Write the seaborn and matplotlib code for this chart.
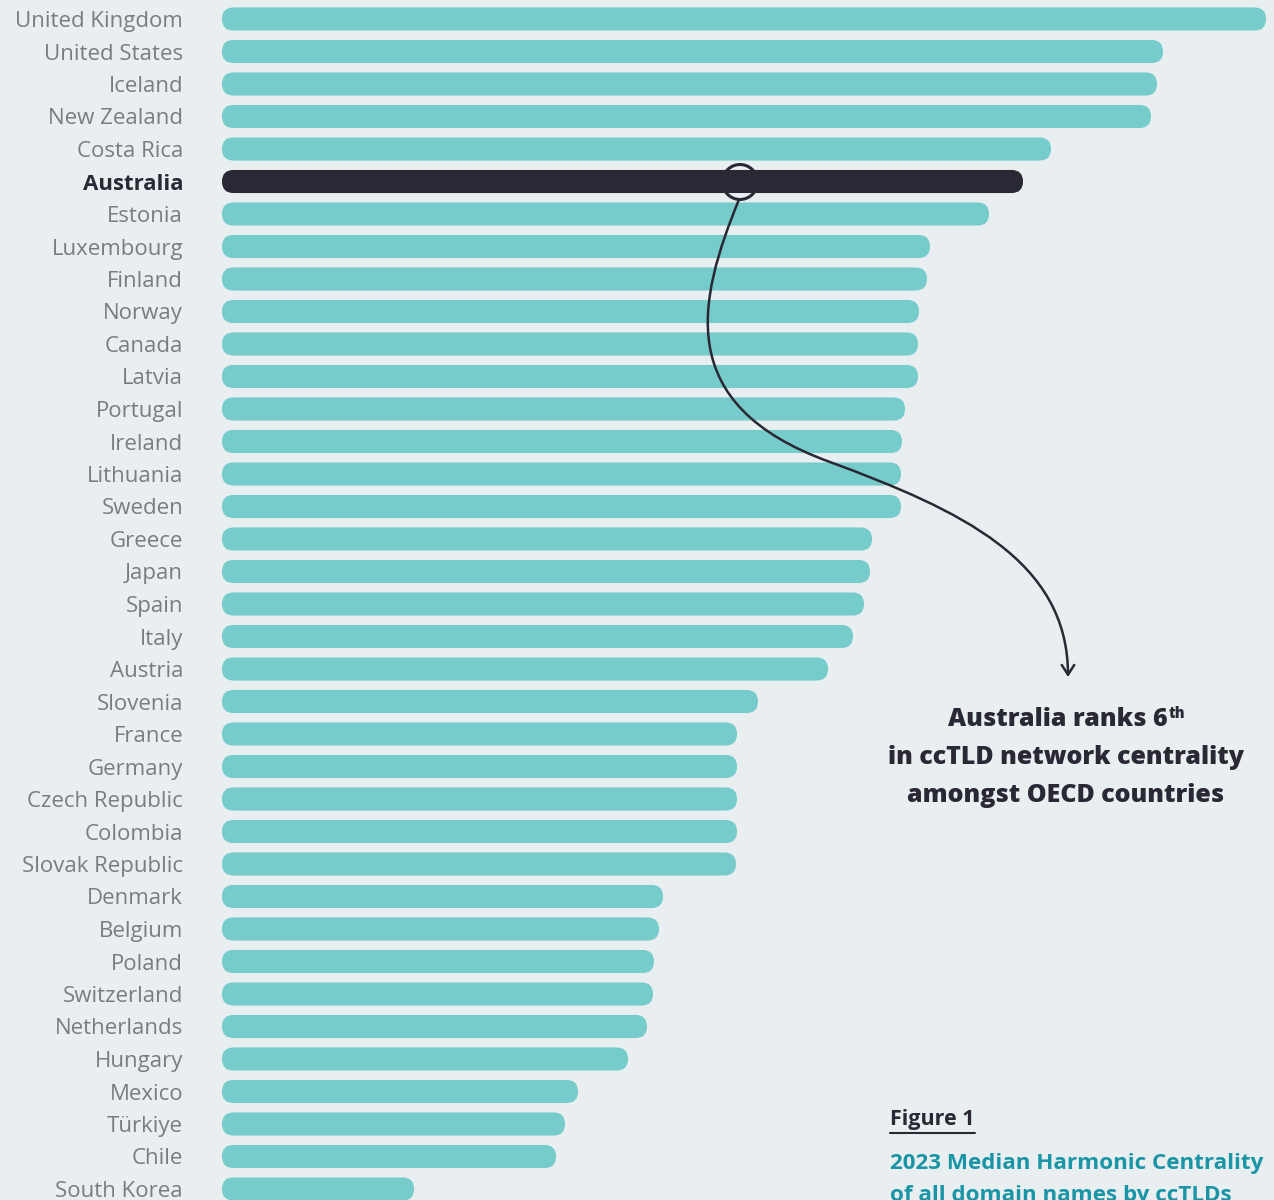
import matplotlib
matplotlib.use("Agg")
import matplotlib.pyplot as plt
import matplotlib.transforms as mtransforms
from matplotlib.patches import FancyBboxPatch, FancyArrowPatch, Circle
from matplotlib.path import Path
import seaborn as sns
import pandas as pd

countries = ["United Kingdom", "United States", "Iceland", "New Zealand", "Costa Rica",
             "Australia", "Estonia", "Luxembourg", "Finland", "Norway", "Canada", "Latvia",
             "Portugal", "Ireland", "Lithuania", "Sweden", "Greece", "Japan", "Spain", "Italy",
             "Austria", "Slovenia", "France", "Germany", "Czech Republic", "Colombia",
             "Slovak Republic", "Denmark", "Belgium", "Poland", "Switzerland", "Netherlands",
             "Hungary", "Mexico", "Türkiye", "Chile", "South Korea"]
# relative centrality (bar length)
values = [1044, 941, 935, 929, 829, 801, 767, 708, 705, 697, 696, 696,
          683, 680, 679, 679, 650, 648, 642, 631, 606, 536, 515, 515, 515, 515,
          514, 441, 437, 432, 431, 425, 406, 356, 343, 334, 192]
highlight = "Australia"

BG = "#E9EEF1"
TEAL = "#76CBCB"
DARK = "#292834"
GRAY = "#7C7B82"
SUB = "#1A95A5"

sns.set_theme(style="white")
plt.rcParams["font.family"] = ["Open Sans", "DejaVu Sans"]

W, H = 1274, 1200
fig = plt.figure(figsize=(W / 100, H / 100), dpi=100, facecolor=BG)
ax = fig.add_axes([222 / W, 0, (W - 222) / W, 1])
ax.set_facecolor(BG)

df = pd.DataFrame({"country": countries, "value": values})
colors = [DARK if c == highlight else TEAL for c in countries]
sns.barplot(data=df, y="country", x="value", hue="country", palette=colors,
            legend=False, orient="h", width=0.71, ax=ax, saturation=1)

ax.set_xlim(0, W - 222)
ax.set_ylim((H - 19) / 32.5, -19 / 32.5)

# rounded bars
r = 11.4
px_per_y = 32.5
for p in list(ax.patches):
    x0, y0, w, h = p.get_x(), p.get_y(), p.get_width(), p.get_height()
    fc = p.get_facecolor()
    p.remove()
    fb = FancyBboxPatch((x0, y0), w, h, boxstyle=f"round,pad=0,rounding_size={r}",
                        mutation_aspect=1 / px_per_y, facecolor=fc, edgecolor="none")
    ax.add_patch(fb)

for s in ax.spines.values():
    s.set_visible(False)
ax.set_xticks([])
ax.set_xlabel("")
ax.set_ylabel("")
ax.tick_params(axis="y", length=0, pad=28, labelsize=16, labelcolor=GRAY)
for lab in ax.get_yticklabels():
    if lab.get_text() == highlight:
        lab.set_fontweight("bold")
        lab.set_color(DARK)

# pixel transform (top-left origin)
pix = mtransforms.Affine2D().scale(1 / W, -1 / H).translate(0, 1) + fig.transFigure

# circle highlight
circ = Circle((740, 182), 17.5, transform=pix, fill=False, edgecolor=DARK, lw=2.2)
fig.add_artist(circ)

verts = [(739, 199.5), (698, 300), (672, 405), (830, 462),
         (960, 510), (1068, 560), (1068, 677)]
codes = [Path.MOVETO, Path.CURVE4, Path.CURVE4, Path.CURVE4,
         Path.CURVE4, Path.CURVE4, Path.CURVE4]
arrow = FancyArrowPatch(path=Path(verts, codes), transform=pix,
                        arrowstyle="->,head_length=7,head_width=4.5", color=DARK, lw=1.8)
fig.add_artist(arrow)

# annotation text
fw = "heavy"
afs = 18
renderer = fig.canvas.get_renderer()
t1 = fig.text(0, 0, "Australia ranks 6", transform=pix, fontsize=afs, fontweight=fw,
              color=DARK, ha="left", va="center")
t2 = fig.text(0, 0, "th", transform=pix, fontsize=10.5, fontweight=fw,
              color=DARK, ha="left", va="center")
w1 = t1.get_window_extent(renderer).width
w2 = t2.get_window_extent(renderer).width
x_start = 1066 - (w1 + w2) / 2
t1.set_position((x_start, 720))
t2.set_position((x_start + w1 + 1, 714))
fig.text(1066, 757, "in ccTLD network centrality", transform=pix, fontsize=afs,
         fontweight=fw, color=DARK, ha="center", va="center")
fig.text(1066, 795, "amongst OECD countries", transform=pix, fontsize=afs,
         fontweight=fw, color=DARK, ha="center", va="center")

# figure caption
f1 = fig.text(890, 1120, "Figure 1", transform=pix, fontsize=15.5, fontweight="bold",
              color=DARK, ha="left", va="center")
fw1 = f1.get_window_extent(renderer).width
fig.add_artist(plt.Line2D([890, 890 + fw1], [1133, 1133], transform=pix, color=DARK, lw=1.5))
fig.text(890, 1163, "2023 Median Harmonic Centrality", transform=pix, fontsize=16.1,
         fontweight="bold", color=SUB, ha="left", va="center")
fig.text(890, 1195, "of all domain names by ccTLDs", transform=pix, fontsize=16.1,
         fontweight="bold", color=SUB, ha="left", va="center")

fig.savefig("out.png", dpi=100, facecolor=BG)
